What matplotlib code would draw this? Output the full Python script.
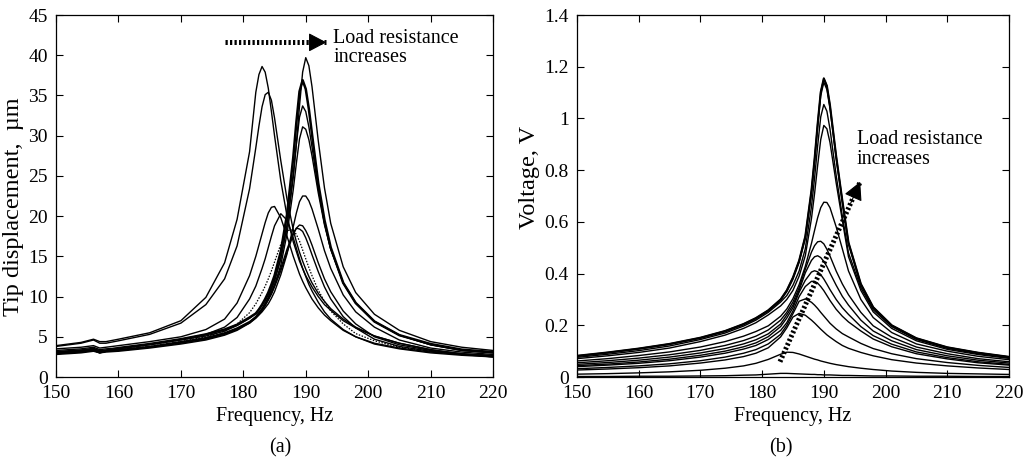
import matplotlib
matplotlib.use('Agg')
import matplotlib.pyplot as plt
from matplotlib.ticker import FuncFormatter

# (a) tip displacement, um, against frequency, Hz
freq_a = [150, 152, 154, 156, 157, 158, 160, 165, 170, 174, 177, 179, 181, 182, 182.5,
          183, 183.5, 184, 184.5, 185, 186, 187, 188, 188.5, 189, 189.5, 190, 190.5, 191,
          192, 193, 194, 196, 198, 201, 205, 210, 215, 220]

disp_short = [3.9, 4.1, 4.3, 4.7, 4.4, 4.4, 4.7, 5.5, 7.0, 9.9, 14.2, 19.6, 28.0, 35.4, 37.6,
              38.6, 37.9, 35.9, 33.0, 30.0, 24.4, 20.0, 16.8, 15.6, 14.4, 13.5, 12.6, 11.9, 11.2,
              10.0, 9.0, 8.3, 7.0, 6.1, 5.1, 4.2, 3.4, 2.9, 2.5]
disp_r2 = [3.8, 4.0, 4.2, 4.6, 4.2, 4.2, 4.5, 5.3, 6.7, 9.0, 12.2, 16.3, 23.4, 28.5, 31.2,
           33.6, 35.1, 35.4, 34.4, 32.2, 26.9, 22.1, 18.3, 16.8, 15.5, 14.4, 13.4, 12.5, 11.7,
           10.4, 9.4, 8.5, 7.2, 6.2, 5.1, 4.2, 3.4, 2.8, 2.5]
disp_r3 = [3.5, 3.6, 3.7, 3.9, 3.6, 3.7, 3.9, 4.4, 5.0, 5.9, 7.2, 9.2, 12.6, 15.0, 16.4,
           17.8, 19.2, 20.4, 21.1, 21.2, 19.8, 17.5, 15.0, 13.9, 12.8, 11.9, 11.1, 10.4, 9.7,
           8.6, 7.7, 7.0, 5.8, 5.0, 4.1, 3.5, 3.0, 2.7, 2.5]
disp_r4 = [3.3, 3.4, 3.5, 3.7, 3.4, 3.5, 3.6, 4.1, 4.7, 5.3, 6.2, 7.4, 9.7, 11.3, 12.4,
           13.5, 14.7, 16.1, 17.5, 18.8, 20.3, 19.5, 17.3, 16.0, 14.7, 13.5, 12.5, 11.5, 10.7,
           9.3, 8.1, 7.2, 5.9, 5.0, 4.2, 3.6, 3.1, 2.8, 2.6]
disp_r5 = [3.1, 3.2, 3.3, 3.5, 3.2, 3.3, 3.4, 3.8, 4.4, 5.0, 5.7, 6.6, 8.0, 9.1, 9.8,
           10.5, 11.3, 12.2, 13.2, 14.3, 16.5, 18.2, 18.3, 17.7, 16.9, 15.8, 14.7, 13.6, 12.6,
           10.8, 9.4, 8.2, 6.6, 5.4, 4.5, 3.7, 3.2, 2.8, 2.6]
disp_r6 = [3.0, 3.1, 3.2, 3.4, 3.1, 3.2, 3.3, 3.7, 4.2, 4.7, 5.3, 5.9, 6.8, 7.5, 8.0,
           8.5, 9.1, 9.8, 10.6, 11.5, 13.5, 15.9, 17.9, 18.5, 18.4, 18.1, 17.3, 16.3, 15.2,
           13.1, 11.2, 9.7, 7.5, 6.1, 4.7, 3.8, 3.2, 2.8, 2.6]
disp_r7 = [2.8, 2.9, 3.0, 3.2, 3.0, 3.1, 3.2, 3.6, 4.1, 4.6, 5.2, 5.8, 6.7, 7.4, 7.8,
           8.3, 8.9, 9.6, 10.3, 11.2, 13.2, 15.5, 17.7, 18.5, 18.9, 18.8, 18.2, 17.4, 16.4,
           14.2, 12.2, 10.6, 8.2, 6.6, 5.0, 4.0, 3.3, 2.9, 2.7]
disp_r8 = [2.9, 3.0, 3.1, 3.3, 3.0, 3.2, 3.3, 3.7, 4.3, 4.8, 5.4, 6.0, 6.7, 7.3, 7.7,
           8.1, 8.6, 9.1, 9.8, 10.6, 12.7, 15.3, 18.7, 20.4, 21.8, 22.5, 22.5, 21.9, 20.9,
           18.4, 15.7, 13.5, 10.2, 8.1, 6.2, 4.6, 3.6, 3.1, 2.8]
disp_r9 = [2.9, 3.0, 3.1, 3.3, 3.0, 3.2, 3.3, 3.7, 4.3, 4.8, 5.4, 6.0, 6.8, 7.4, 7.8,
           8.3, 8.9, 9.6, 10.4, 11.4, 13.9, 17.8, 23.3, 26.6, 29.6, 31.1, 30.8, 29.5, 27.5,
           22.9, 18.9, 15.9, 11.7, 9.2, 6.9, 5.2, 4.0, 3.3, 3.0]
disp_r10 = [3.0, 3.1, 3.2, 3.4, 3.1, 3.2, 3.4, 3.8, 4.4, 4.9, 5.5, 6.1, 6.9, 7.5, 8.0,
            8.5, 9.2, 9.9, 10.9, 11.9, 14.7, 18.9, 25.3, 29.0, 32.3, 33.7, 33.0, 31.1, 28.6,
            23.4, 19.1, 15.9, 11.7, 9.2, 6.9, 5.2, 4.0, 3.3, 3.0]
disp_r11 = [3.1, 3.2, 3.3, 3.5, 3.2, 3.3, 3.6, 4.1, 4.7, 5.3, 5.9, 6.5, 7.4, 7.9, 8.4,
            9.0, 9.7, 10.5, 11.5, 12.6, 15.6, 20.2, 27.3, 31.7, 35.5, 36.9, 35.8, 33.3, 30.2,
            24.1, 19.5, 16.1, 11.7, 9.2, 6.9, 5.2, 4.1, 3.4, 3.1]
disp_open = [3.0, 3.1, 3.2, 3.4, 3.1, 3.2, 3.5, 4.0, 4.6, 5.1, 5.7, 6.4, 7.3, 7.9, 8.4,
             8.9, 9.5, 10.2, 11.1, 12.1, 14.7, 18.7, 24.8, 29.0, 33.7, 37.9, 39.7, 38.7, 36.1,
             29.4, 23.5, 19.1, 13.7, 10.5, 7.8, 5.8, 4.4, 3.7, 3.3]

# (b) voltage, V, against frequency, Hz
freq_b = [150, 155, 160, 165, 170, 174, 177, 179, 181, 183, 184, 185, 186, 187, 188,
          188.5, 189, 189.5, 190, 190.5, 191, 192, 193, 194, 196, 198, 201, 205, 210, 215, 220]

volt_r1 = [0.002, 0.002, 0.003, 0.003, 0.004, 0.005, 0.007, 0.008, 0.011, 0.014, 0.014, 0.013,
           0.012, 0.011, 0.010, 0.010, 0.009, 0.009, 0.008, 0.008, 0.008, 0.007, 0.006, 0.006,
           0.005, 0.004, 0.004, 0.003, 0.003, 0.002, 0.002]
volt_r2 = [0.011, 0.013, 0.016, 0.020, 0.026, 0.034, 0.043, 0.053, 0.068, 0.088, 0.096, 0.095,
           0.089, 0.081, 0.073, 0.069, 0.066, 0.062, 0.059, 0.056, 0.053, 0.048, 0.044, 0.040,
           0.034, 0.029, 0.023, 0.018, 0.014, 0.012, 0.010]
volt_r3 = [0.027, 0.031, 0.036, 0.043, 0.054, 0.066, 0.079, 0.092, 0.113, 0.155, 0.190, 0.232,
           0.246, 0.239, 0.220, 0.209, 0.197, 0.185, 0.174, 0.163, 0.154, 0.137, 0.122, 0.111,
           0.095, 0.082, 0.067, 0.054, 0.043, 0.035, 0.029]
volt_r4 = [0.032, 0.037, 0.043, 0.051, 0.063, 0.077, 0.092, 0.106, 0.128, 0.165, 0.200, 0.245,
           0.293, 0.302, 0.289, 0.278, 0.265, 0.250, 0.236, 0.222, 0.208, 0.186, 0.168, 0.155,
           0.130, 0.110, 0.090, 0.071, 0.056, 0.045, 0.037]
volt_r5 = [0.040, 0.046, 0.053, 0.063, 0.077, 0.092, 0.108, 0.122, 0.145, 0.180, 0.210, 0.255,
           0.311, 0.350, 0.370, 0.370, 0.363, 0.350, 0.334, 0.315, 0.296, 0.262, 0.235, 0.213,
           0.178, 0.147, 0.117, 0.090, 0.070, 0.055, 0.046]
volt_r6 = [0.044, 0.050, 0.058, 0.069, 0.084, 0.100, 0.117, 0.132, 0.156, 0.195, 0.228, 0.268,
           0.328, 0.374, 0.406, 0.411, 0.407, 0.396, 0.379, 0.359, 0.338, 0.300, 0.268, 0.242,
           0.195, 0.160, 0.127, 0.097, 0.075, 0.059, 0.049]
volt_r7 = [0.049, 0.056, 0.065, 0.077, 0.093, 0.110, 0.128, 0.144, 0.167, 0.205, 0.240, 0.278,
           0.335, 0.403, 0.451, 0.465, 0.469, 0.462, 0.447, 0.427, 0.402, 0.355, 0.312, 0.278,
           0.220, 0.178, 0.140, 0.106, 0.082, 0.065, 0.054]
volt_r8 = [0.055, 0.063, 0.073, 0.086, 0.103, 0.122, 0.141, 0.158, 0.182, 0.220, 0.250, 0.290,
           0.345, 0.417, 0.483, 0.508, 0.523, 0.525, 0.515, 0.494, 0.468, 0.410, 0.360, 0.318,
           0.250, 0.198, 0.154, 0.116, 0.090, 0.071, 0.059]
volt_r9 = [0.062, 0.071, 0.083, 0.097, 0.116, 0.137, 0.158, 0.176, 0.198, 0.235, 0.263, 0.303,
           0.357, 0.428, 0.517, 0.567, 0.616, 0.655, 0.676, 0.675, 0.655, 0.581, 0.496, 0.410,
           0.300, 0.230, 0.172, 0.128, 0.100, 0.080, 0.067]
volt_r10 = [0.071, 0.082, 0.095, 0.112, 0.137, 0.162, 0.188, 0.210, 0.240, 0.275, 0.300, 0.335,
            0.390, 0.469, 0.613, 0.709, 0.818, 0.918, 0.973, 0.960, 0.907, 0.751, 0.606, 0.465,
            0.335, 0.252, 0.188, 0.140, 0.107, 0.087, 0.072]
volt_r11 = [0.076, 0.088, 0.102, 0.120, 0.145, 0.170, 0.197, 0.220, 0.250, 0.290, 0.315, 0.355,
            0.410, 0.496, 0.659, 0.769, 0.894, 1.006, 1.054, 1.028, 0.959, 0.780, 0.623, 0.480,
            0.345, 0.260, 0.195, 0.145, 0.111, 0.090, 0.075]
volt_r12 = [0.080, 0.093, 0.108, 0.126, 0.150, 0.175, 0.202, 0.225, 0.255, 0.296, 0.330, 0.378,
            0.443, 0.535, 0.711, 0.831, 0.966, 1.088, 1.140, 1.112, 1.038, 0.845, 0.674, 0.513,
            0.355, 0.266, 0.197, 0.148, 0.113, 0.093, 0.077]
volt_open = [0.082, 0.095, 0.110, 0.128, 0.152, 0.178, 0.205, 0.228, 0.258, 0.300, 0.335, 0.385,
             0.450, 0.544, 0.722, 0.843, 0.979, 1.102, 1.155, 1.126, 1.051, 0.855, 0.683, 0.520,
             0.360, 0.270, 0.200, 0.150, 0.115, 0.094, 0.078]

disp_solid = [disp_short, disp_r2, disp_r3, disp_r4, disp_r6, disp_r7, disp_r8,
              disp_r9, disp_r10, disp_open]
volt_all = [volt_r1, volt_r2, volt_r3, volt_r4, volt_r5, volt_r6, volt_r7, volt_r8,
            volt_r9, volt_r10, volt_r11, volt_r12, volt_open]

# arrows: (tail, tip) in data units
arrow_a = ((177.1, 41.6), (193.3, 41.6))
arrow_b = ((182.9, 0.059), (195.9, 0.755))

plt.rcParams['font.family'] = ['Liberation Serif', 'DejaVu Serif']
plt.rcParams['font.size'] = 14

fig = plt.figure(figsize=(10.36, 4.61), dpi=100)
ax1 = fig.add_axes([0.0541, 0.1822, 0.4218, 0.7852])
ax2 = fig.add_axes([0.5569, 0.1822, 0.4170, 0.7852])

for d in disp_solid:
    ax1.plot(freq_a, d, color='k', lw=1.0)
ax1.plot(freq_a, disp_r11, color='k', lw=1.8)
ax1.plot(freq_a, disp_r5, color='k', lw=0.9, ls=(0, (1.2, 1.2)))

for v in volt_all:
    ax2.plot(freq_b, v, color='k', lw=1.0)
ax2.plot(freq_b, volt_open, color='k', lw=1.5)

for ax in (ax1, ax2):
    ax.set_xlim(150, 220)
    ax.set_xticks(range(150, 221, 10))
    ax.tick_params(direction='in', top=True, right=True, length=5, width=0.8,
                   labelsize=14, pad=6)
    for s in ax.spines.values():
        s.set_linewidth(0.9)
    ax.set_xlabel('Frequency, Hz', fontsize=14.5, labelpad=3)

ax1.set_ylim(0, 45)
ax1.set_yticks(range(0, 46, 5))
ax1.set_ylabel('Tip displacement,  \u00b5m', fontsize=17.5, labelpad=3)
ax1.yaxis.label.set_y(0.47)

ax2.set_ylim(0, 1.4)
ax2.set_yticks([0, 0.2, 0.4, 0.6, 0.8, 1.0, 1.2, 1.4])
ax2.yaxis.set_major_formatter(FuncFormatter(lambda y, p: '%g' % y))
ax2.set_ylabel('Voltage, V', fontsize=17.5, labelpad=3)
ax2.yaxis.label.set_y(0.55)


def dotted_arrow(ax, tail, tip):
    ax.plot([tail[0], tip[0]], [tail[1], tip[1]], color='k', lw=3.6,
            ls=(0, (0.45, 0.45)), solid_capstyle='butt', dash_capstyle='butt')
    back = (tip[0] - 0.12 * (tip[0] - tail[0]), tip[1] - 0.12 * (tip[1] - tail[1]))
    ax.annotate('', xy=tip, xytext=back,
                arrowprops=dict(arrowstyle='-|>,head_length=0.8,head_width=0.42',
                                color='k', lw=0.8, shrinkA=0, shrinkB=0))


dotted_arrow(ax1, *arrow_a)
dotted_arrow(ax2, *arrow_b)

ax1.text(194.4, 43.3, 'Load resistance\nincreases', ha='left', va='top',
         fontsize=14.5, linespacing=1.05)
ax2.text(195.3, 0.955, 'Load resistance\nincreases', ha='left', va='top',
         fontsize=14.5, linespacing=1.05)

fig.text(280 / 1036, 13 / 461, '(a)', ha='center', va='center', fontsize=14.5)
fig.text(781 / 1036, 13 / 461, '(b)', ha='center', va='center', fontsize=14.5)

fig.savefig('out.png', dpi=100)
